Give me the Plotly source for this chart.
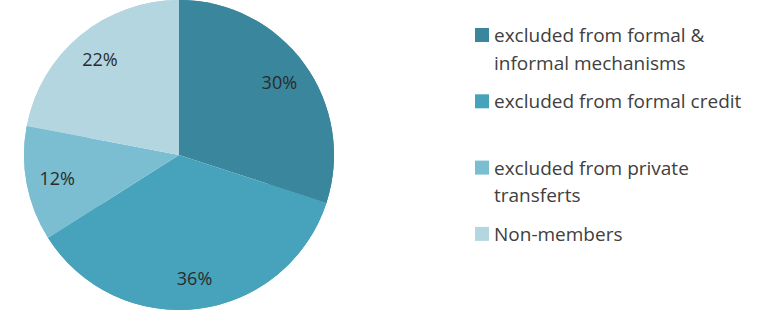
import plotly.graph_objects as go

# ---- data ----
categories = [
    "excluded from formal & informal mechanisms",
    "excluded from formal credit",
    "excluded from private transferts",
    "Non-members",
]
legend_lines = [
    ["excluded from formal &", "informal mechanisms"],
    ["excluded from formal credit"],
    ["excluded from private", "transferts"],
    ["Non-members"],
]
shares = [30, 36, 12, 22]
colors = ["#3a869c", "#46a3bb", "#7bbdd1", "#b4d6e1"]

W, H = 759, 323
FONT = "Open Sans"
DOMAIN = dict(x=[24 / W, 334 / W], y=[13 / H, 1])

fig = go.Figure()
# full pie (base)
fig.add_trace(go.Pie(
    labels=categories, values=shares, sort=False,
    direction="clockwise", rotation=0,
    marker=dict(colors=colors, line=dict(width=0)),
    textinfo="none", domain=DOMAIN, showlegend=False,
    hoverinfo="label+percent",
))
# same pie as a ring on top, carrying the labels near the rim
fig.add_trace(go.Pie(
    labels=categories, values=shares, sort=False,
    direction="clockwise", rotation=0, hole=0.6,
    marker=dict(colors=colors, line=dict(width=0)),
    texttemplate="%{value}%",
    textposition="inside",
    insidetextorientation="horizontal",
    textfont=dict(family=FONT, size=18, color="#2b2b2b"),
    domain=DOMAIN, showlegend=False,
    hoverinfo="label+percent",
))

# ---- manual legend (squares + text) ----
shapes = []
annotations = []
first_y = 35.0
pitch = 66.3
line_gap = 27.5
sq = 14
for i, (lines, col) in enumerate(zip(legend_lines, colors)):
    yc = first_y + pitch * i
    shapes.append(dict(
        type="rect", xref="paper", yref="paper",
        x0=475 / W, x1=(475 + sq) / W,
        y0=1 - (yc - sq / 2) / H, y1=1 - (yc + sq / 2) / H,
        fillcolor=col, line=dict(width=0),
    ))
    for j, txt in enumerate(lines):
        y = yc + j * line_gap
        annotations.append(dict(
            text=txt, xref="paper", yref="paper",
            x=492 / W, y=1 - y / H, xanchor="left", yanchor="middle",
            showarrow=False,
            font=dict(family=FONT, size=19, color="#404040"),
        ))

fig.update_layout(
    width=W, height=H,
    margin=dict(l=0, r=0, t=0, b=0),
    paper_bgcolor="white", plot_bgcolor="white",
    shapes=shapes, annotations=annotations,
)

fig.write_html("out.html")
